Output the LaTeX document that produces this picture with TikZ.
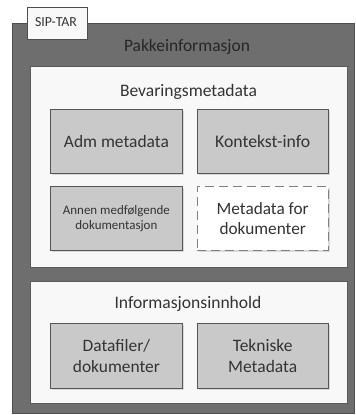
\documentclass[tikz,border=0pt]{standalone}
\usepackage{fontspec}
\setmainfont{Carlito}
\definecolor{outerfill}{HTML}{6E6E6E}
\definecolor{outerline}{HTML}{4E4E4E}
\definecolor{boxfill}{HTML}{C9C9C9}
\definecolor{boxline}{HTML}{555555}
\definecolor{panelfill}{HTML}{F8F8F8}
\definecolor{panelline}{HTML}{5A5A5A}
\definecolor{txt}{HTML}{333333}
\newcommand\fitsize[3]{%
  \setbox0\hbox{\fontsize{10}{12}\selectfont #2}%
  \pgfmathsetmacro\myfs{10*#1/\wd0}%
  \pgfmathsetmacro\mybs{#3}%
  \fontsize{\myfs pt}{\mybs pt}\selectfont}
\begin{document}
\begin{tikzpicture}[x=1pt,y=-1pt,
  panel/.style={draw=panelline,fill=panelfill,line width=0.8pt},
  greybox/.style={draw=boxline,fill=boxfill,line width=0.8pt,anchor=north west,inner sep=0pt},
  dashbox/.style={draw=boxline!75,fill=white,line width=0.9pt,dash pattern=on 9pt off 5pt,anchor=north west,inner sep=0pt},
  lbl/.style={text=txt,inner sep=0pt,align=center},
  shadowfx/.style={fill=black!15,draw=none}]
\useasboundingbox (0,0) rectangle (356,415);
\fill[white] (0,0) rectangle (356,415);
% outer package
\draw[fill=outerfill,draw=outerline,line width=0.8pt] (12,23.5) rectangle (354.5,413);
% tab
\node[draw=outerline,fill=panelfill,line width=0.8pt,minimum width=60pt,minimum height=32pt,anchor=north west,inner sep=0pt] (tab) at (27,7) {};
\node[lbl,font={\fitsize{42}{SIP-TAR}{14}},anchor=base] (tabtxt) at (56,26.7) {SIP-TAR};
\node[lbl,font={\fitsize{126}{Pakkeinformasjon}{18}},text=black!85,anchor=base] (pakke) at (187,51.7) {Pakkeinformasjon};
% Bevaringsmetadata panel
\draw[panel] (30,66) rectangle (347,267);
\node[lbl,font={\fitsize{137}{Bevaringsmetadata}{18}},anchor=base] (bev) at (188.5,96.7) {Bevaringsmetadata};
\fill[shadowfx] (52,111) rectangle (184,175);
\node[greybox,minimum width=132pt,minimum height=64pt] (adm) at (50,109) {};
\node[lbl,font={\fitsize{105}{Adm metadata}{20}}] at (adm.center) {Adm metadata};
\fill[shadowfx] (199,111) rectangle (329.5,175);
\node[greybox,minimum width=130.5pt,minimum height=64pt] (kont) at (197,109) {};
\node[lbl,font={\fitsize{95}{Kontekst-info}{20}}] at (kont.center) {Kontekst-info};
\fill[shadowfx] (52,188) rectangle (184,252);
\node[greybox,minimum width=132pt,minimum height=64pt] (annen) at (50,186) {};
\node[lbl,font={\fitsize{107}{Annen medfølgende}{15}}] at (annen.center) {Annen medfølgende\\dokumentasjon};
\fill[shadowfx] (199,188) rectangle (329.5,252);
\node[dashbox,minimum width=130.5pt,minimum height=64pt] (metadok) at (197,186) {};
\node[lbl,font={\fitsize{92}{Metadata for}{20}}] at (metadok.center) {Metadata for\\dokumenter};
% Informasjonsinnhold panel
\draw[panel] (30,281) rectangle (347,403);
\node[lbl,font={\fitsize{147}{Informasjonsinnhold}{18}},anchor=base] (info) at (188,308.5) {Informasjonsinnhold};
\fill[shadowfx] (52,325) rectangle (184,390);
\node[greybox,minimum width=132pt,minimum height=65pt] (data) at (50,323) {};
\node[lbl,font={\fitsize{87}{dokumenter}{20.5}}] at (data.center) {Datafiler/\\dokumenter};
\fill[shadowfx] (199,325) rectangle (329.5,390);
\node[greybox,minimum width=130.5pt,minimum height=65pt] (tek) at (197,323) {};
\node[lbl,font={\fitsize{69}{Metadata}{20.5}}] at (tek.center) {Tekniske\\Metadata};
\end{tikzpicture}
\end{document}
